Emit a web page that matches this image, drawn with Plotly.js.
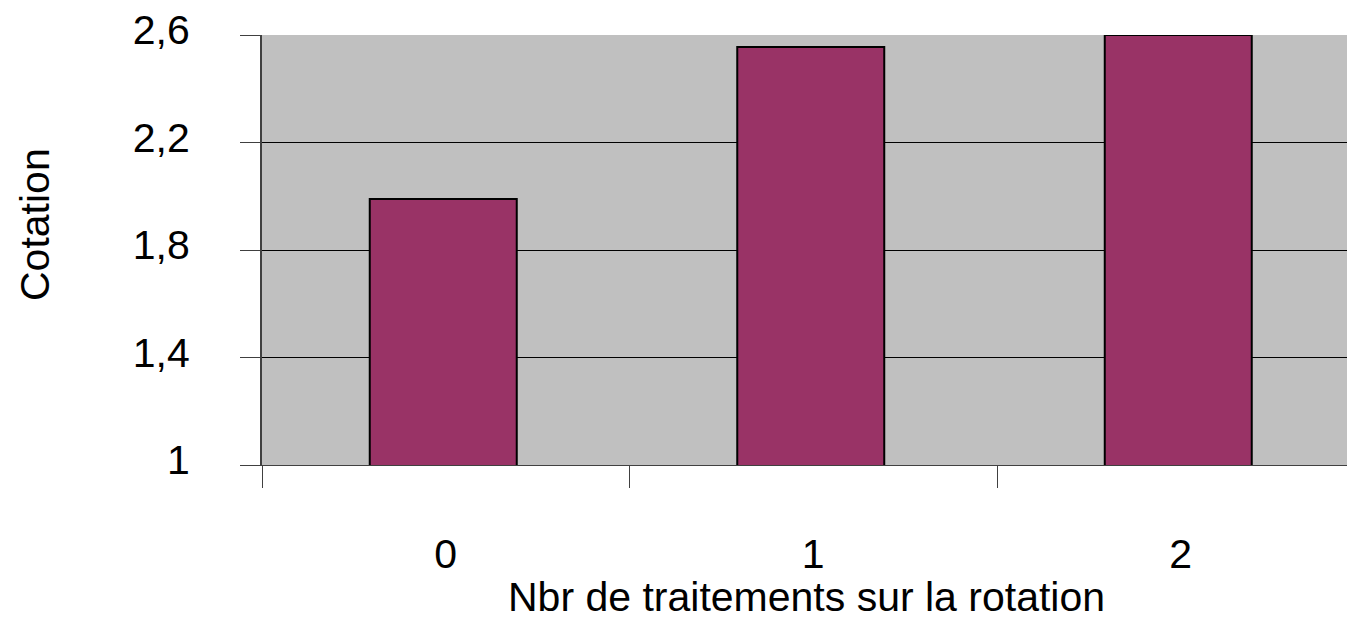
<!DOCTYPE html>
<html>
<head>
<meta charset="utf-8">
<script src="https://cdn.plot.ly/plotly-3.0.1.min.js"></script>
<style>
  html, body { margin: 0; padding: 0; background: #ffffff; overflow: hidden; }
  #chart { width: 1347px; height: 622px; }
</style>
</head>
<body>
<div id="chart"></div>
<script>
// Data
const categories = ['0', '1', '2'];
const cotation = [1.99, 2.555, 2.6];
const yTickValues = [1, 1.4, 1.8, 2.2, 2.6];
const yTickLabels = ['1', '1,4', '1,8', '2,2', '2,6'];
const xTitle = 'Nbr de traitements sur la rotation';
const yTitle = 'Cotation';

const FONT = 'Liberation Sans, Arial, sans-serif';
const FS = 41;
const W = 1347, H = 622;
const L = 262, T = 35, B = 157;
const plotW = W - L, plotH = H - T - B;
const catPx = 367.5;

const trace = {
  type: 'bar',
  x: categories,
  y: cotation,
  width: 0.4,
  offset: -0.2 - 2.5 / catPx,
  marker: { color: '#993366', line: { color: '#000000', width: 2 } },
  hoverinfo: 'x+y'
};

const layout = {
  width: W,
  height: H,
  margin: { l: L, r: 0, t: T, b: B, pad: 0 },
  paper_bgcolor: '#ffffff',
  plot_bgcolor: '#c0c0c0',
  showlegend: false,
  font: { family: FONT, size: FS, color: '#000000' },
  xaxis: {
    type: 'category',
    range: [-0.5, -0.5 + plotW / catPx],
    tickson: 'boundaries',
    ticks: 'outside',
    ticklen: 22,
    tickwidth: 1,
    tickcolor: '#404040',
    showgrid: false,
    showline: true,
    linecolor: '#404040',
    linewidth: 1,
    zeroline: false,
    ticklabelstandoff: 53,
    tickfont: { family: FONT, size: FS, color: '#000000' },
    fixedrange: true
  },
  yaxis: {
    range: [1, 2.6],
    tickmode: 'array',
    tickvals: yTickValues,
    ticktext: yTickLabels,
    ticks: 'outside',
    ticklen: 20,
    tickwidth: 1,
    tickcolor: '#404040',
    showgrid: true,
    gridcolor: '#000000',
    gridwidth: 1,
    showline: true,
    linecolor: '#404040',
    linewidth: 2,
    zeroline: false,
    ticklabelstandoff: 42,
    ticklabelshift: -5,
    tickfont: { family: FONT, size: FS, color: '#000000' },
    fixedrange: true
  },
  annotations: [
    {
      text: xTitle,
      xref: 'paper', yref: 'paper',
      x: (806 - L) / plotW, y: ((H - B) - 597) / plotH,
      xanchor: 'center', yanchor: 'middle',
      showarrow: false,
      font: { family: FONT, size: FS, color: '#000000' }
    },
    {
      text: yTitle,
      xref: 'paper', yref: 'paper',
      x: (35 - L) / plotW, y: ((H - B) - 225) / plotH,
      xanchor: 'center', yanchor: 'middle',
      textangle: -90,
      showarrow: false,
      font: { family: FONT, size: FS, color: '#000000' }
    }
  ]
};

Plotly.newPlot('chart', [trace], layout, { displayModeBar: false, staticPlot: true });
</script>
</body>
</html>
